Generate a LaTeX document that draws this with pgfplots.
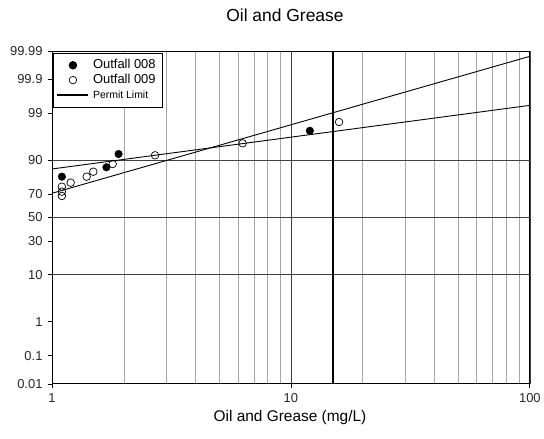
\documentclass[border=0pt]{standalone}
\usepackage{pgfplots}
\pgfplotsset{compat=1.18}
\usepackage{fontspec}
\setmainfont{Liberation Sans}
\begin{document}
\begin{tikzpicture}[x=1bp,y=1bp]
\path (0,0) rectangle (544,439);
\begin{axis}[
  at={(52bp,55bp)}, anchor=south west,
  scale only axis, width=478bp, height=333bp,
  xmode=log, xmin=1, xmax=100,
  ymin=-3.719, ymax=3.719,
  xtick={1,10,100}, xticklabels={1,10,100},
  minor xtick={2,3,4,5,6,7,8,9,20,30,40,50,60,70,80,90},
  ytick={-3.719,-3.090,-2.326,-1.2816,-0.5244,0,0.5244,1.2816,2.326,3.090,3.719},
  yticklabels={0.01,0.1,1,10,30,50,70,90,99,99.9,99.99},
  extra y ticks={-1.2816,0,1.2816}, extra y tick labels={},
  extra y tick style={grid=major, major tick length=0pt},
  xmajorgrids, xminorgrids,
  major grid style={color=black!75, line width=0.7bp},
  minor grid style={color=black!35, line width=0.8bp},
  tick align=outside, major tick length=4bp, minor tick length=0pt,
  xtick pos=bottom, ytick pos=left,
  axis line style={line width=0.9bp},
  tick style={black, line width=0.8bp},
  tick label style={font=\fontsize{13}{15}\selectfont, text=black!85},
  xticklabel style={anchor=base, yshift=-15bp},
  yticklabel style={anchor=east, xshift=-2bp},
  title={Oil and Grease},
  title style={at={(axis description cs:0.4875,1)}, anchor=base, yshift=23.7bp, font=\fontsize{17.5}{20}\selectfont},
  xlabel={Oil and Grease (mg/L)},
  xlabel style={at={(axis description cs:0.498,0)}, anchor=base, yshift=-37.7bp, font=\fontsize{15.5}{18}\selectfont},
  legend style={at={(axis description cs:0.002,0.995)}, anchor=north west, draw=black, line width=0.8bp,
    font=\fontsize{13}{15}\selectfont, row sep=0.3bp, inner xsep=3bp, inner ysep=5bp,
    nodes={text height=9.5bp, text depth=2.5bp, inner ysep=1.25bp, inner xsep=3.5bp}},
  legend cell align=left,
  legend image code/.code={\draw[mark repeat=2,mark phase=2,#1] plot coordinates {(0bp,0bp) (15.5bp,0bp) (31bp,0bp)};},
]
\addplot[only marks, mark=*, mark size=3.8bp, fill=black, draw=black] coordinates {
 (1.10,0.911) (1.69,1.121) (1.90,1.417) (12.0,1.937)
};
\addlegendentry{Outfall 008}
\addplot[only marks, mark=o, mark size=3.8bp, draw=black, line width=0.7bp, mark options={fill=white}] coordinates {
 (1.10,0.48) (1.10,0.576) (1.10,0.6875) (1.197,0.777) (1.397,0.911) (1.489,1.022) (1.795,1.194) (2.70,1.388) (6.28,1.656) (15.9,2.132)
};
\addlegendentry{Outfall 009}
\addplot[black, line width=2.2bp] coordinates {(15,-3.719) (15,3.719)};
\addlegendentry{\fontsize{10.5}{12}\selectfont Permit Limit}
\addplot[black, line width=0.9bp, forget plot] coordinates {(1,0.54) (100,3.60)};
\addplot[black, line width=0.9bp, forget plot] coordinates {(1,1.083) (100,2.504)};
\end{axis}
\end{tikzpicture}
\end{document}
